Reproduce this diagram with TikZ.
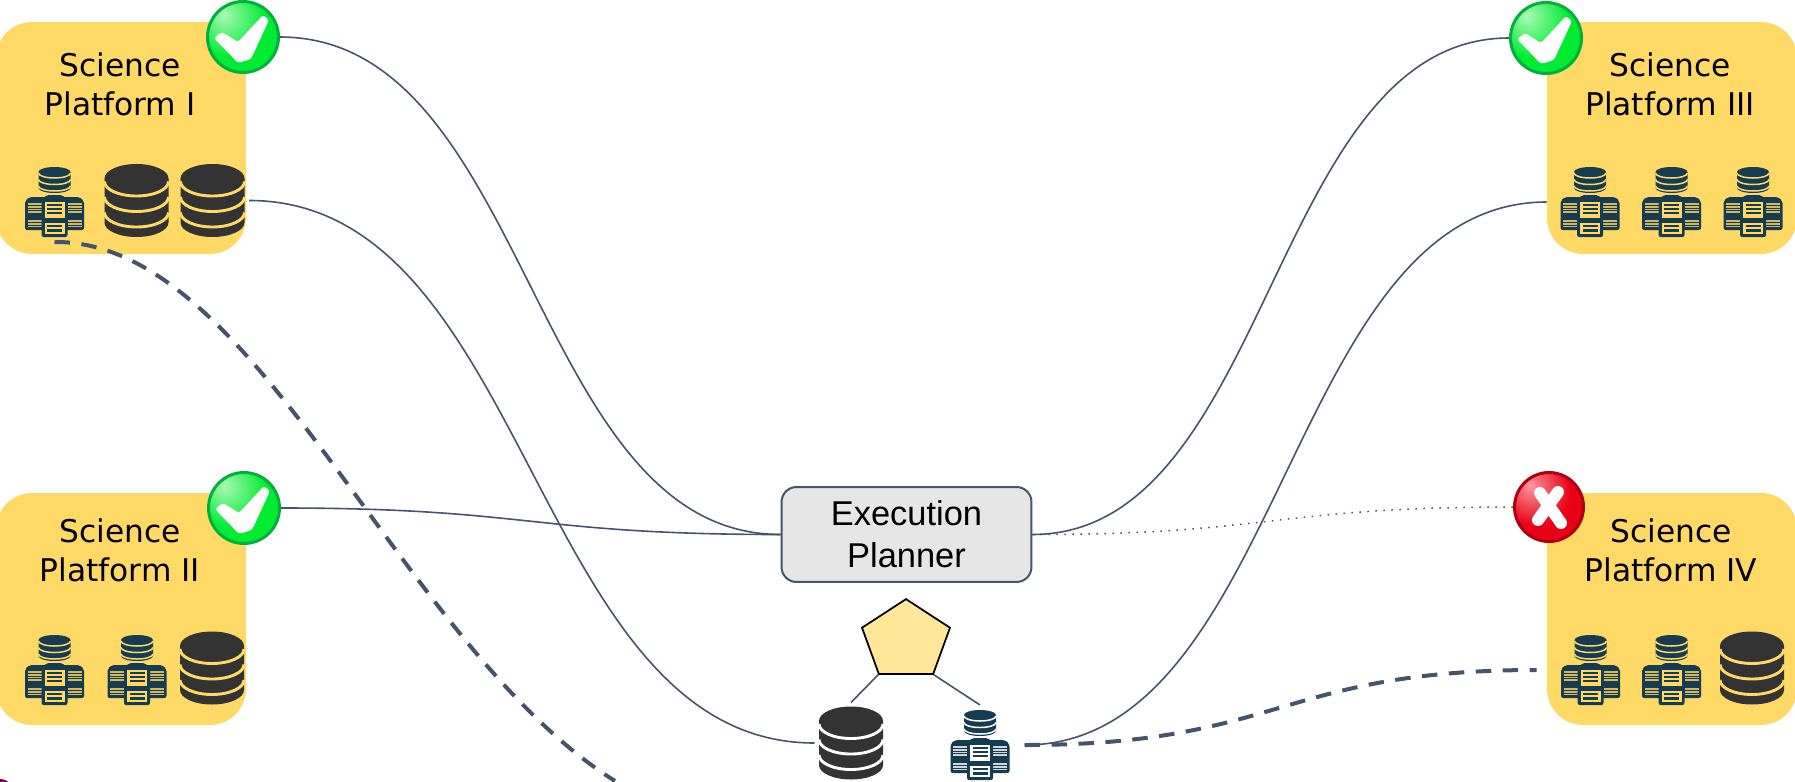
\documentclass[tikz,border=0pt]{standalone}
\usepackage{fontspec}
\setmainfont{DejaVu Sans}
\newfontfamily\plannerfont{Liberation Sans}
\usepackage{tikz}
\usetikzlibrary{shapes.geometric, calc}
\definecolor{platyellow}{RGB}{255, 217, 102}
\definecolor{wireslate}{RGB}{68, 84, 106}
\definecolor{dbdark}{RGB}{51, 51, 51}
\definecolor{srvdark}{RGB}{23, 59, 80}
\definecolor{plannergray}{RGB}{230, 230, 230}
\definecolor{pentyellow}{RGB}{255, 230, 153}
\definecolor{okhi}{RGB}{170, 250, 180}
\definecolor{okmain}{RGB}{0, 235, 50}
\definecolor{okring}{RGB}{0, 176, 60}
\definecolor{badhi}{RGB}{255, 150, 160}
\definecolor{badmain}{RGB}{232, 0, 20}
\definecolor{badring}{RGB}{175, 0, 15}
\definecolor{cutpurple}{RGB}{130, 0, 90}
\pgfdeclareradialshading{okball}{\pgfpoint{-14bp}{16bp}}{color(0bp)=(okhi); color(26bp)=(okmain); color(100bp)=(okmain)}
\pgfdeclareradialshading{badball}{\pgfpoint{-14bp}{16bp}}{color(0bp)=(badhi); color(26bp)=(badmain); color(100bp)=(badmain)}
\newcommand{\dbglyph}[1]{%
  \begin{scope}[shift={(path picture bounding box.center)}]
    \fill[dbdark] (-32,-22) -- (-32,22) arc[start angle=180, end angle=0, x radius=32, y radius=14.5] -- (32,-22) -- cycle;
    \fill[dbdark] (0,-22) ellipse[x radius=32, y radius=14.5];
    \foreach \rowy in {-19,-3.5,12}
      \draw[#1, line width=0.058cm] (-32,\rowy) arc[start angle=180, end angle=0, x radius=32, y radius=14.5];
  \end{scope}}
\newcommand{\srvglyph}[1]{%
  \begin{scope}[shift={(path picture bounding box.center)}]
    \fill[srvdark] (-16,-30) -- (-16,-14) arc[start angle=180, end angle=0, x radius=16, y radius=5] -- (16,-30) -- cycle;
    \fill[srvdark] (0,-30) ellipse[x radius=16, y radius=5];
    \foreach \rowy in {-29,-22.5,-16}
      \draw[#1, line width=0.03cm] (-16,\rowy) arc[start angle=180, end angle=0, x radius=16, y radius=5];
    \foreach \sidex in {-1,1} {
      \fill[srvdark, rounded corners=1.2pt] (\sidex*29.5,28) -- (\sidex*29.5,-1) -- (\sidex*25,-5) -- (\sidex*8,-5) -- (\sidex*8,28) -- cycle;
      \fill[#1!80!srvdark] (\sidex*27,1) rectangle (\sidex*13,11);
      \fill[#1!80!srvdark] (\sidex*27,18) rectangle (\sidex*13,25);
      \foreach \rowy in {3.5,6,8.5,20.5,23}
        \draw[srvdark, line width=0.012cm] (\sidex*27,\rowy) -- (\sidex*13,\rowy);
    }
    \fill[srvdark, rounded corners=1.2pt] (-13,35) -- (-13,-2) -- (-8,-7) -- (8,-7) -- (13,-2) -- (13,35) -- cycle;
    \fill[#1] (-10,-0.5) rectangle (10,15.5);
    \fill[#1] (-10,21) rectangle (10,32);
    \foreach \rowy in {3,7,11,24,28.5}
      \draw[srvdark, line width=0.05cm] (-7.5,\rowy) -- (7.5,\rowy);
  \end{scope}}
\begin{document}
\begin{tikzpicture}[
  x=0.02cm, y=-0.02cm,
  platbox/.style={fill=platyellow, rounded corners=0.72cm, minimum width=5cm, minimum height=4.64cm, inner sep=0pt},
  plattext/.style={align=center, inner sep=0pt, font=\fontsize{17.8}{22.1}\selectfont},
  dbicon/.style={minimum width=1.32cm, minimum height=1.48cm, inner sep=0pt, outer sep=2pt, path picture={\dbglyph{#1}}},
  srvicon/.style={minimum width=1.2cm, minimum height=1.46cm, inner sep=0pt, outer sep=2pt, path picture={\srvglyph{#1}}},
  okbadge/.style={circle, minimum size=1.42cm, inner sep=0pt, draw=okring, line width=0.06cm, shade, shading=okball,
    path picture={\fill[white, rounded corners=1.5pt, shift={(path picture bounding box.center)}]
      (-29,1) -- (-21,-5) -- (-5,5) -- (20,-22) -- (26,-17) -- (8,22) -- (-5,26) -- cycle;}},
  badbadge/.style={circle, minimum size=1.38cm, inner sep=0pt, draw=badring, line width=0.06cm, shade, shading=badball,
    path picture={\draw[white, line width=0.24cm, line cap=round, shift={(path picture bounding box.center)}]
      (-9,-14) -- (12,16) (9,-15) -- (-11,13);}},
  wire/.style={draw=wireslate, line width=0.032cm},
  thickdash/.style={draw=wireslate, line width=0.08cm, dash pattern=on 0.31cm off 0.23cm},
  thindot/.style={draw=wireslate, line width=0.03cm, dash pattern=on 0.03cm off 0.13cm},
]
  \useasboundingbox (0,0) rectangle (1795,781);
  \node[circle, fill=cutpurple, minimum size=0.56cm, inner sep=0pt] (cutmark) at (0,793) {};

  \node[platbox] (platA) at (121,138) {};
  \node[platbox] (platB) at (121,609) {};
  \node[platbox] (platC) at (1672,138) {};
  \node[platbox] (platD) at (1672,609) {};
  \node[plattext] (textA) at (120,84) {Science\\Platform I};
  \node[plattext] (textB) at (120,550) {Science\\Platform II};
  \node[plattext] (textC) at (1670,84) {Science\\Platform III};
  \node[plattext] (textD) at (1671,550) {Science\\Platform IV};

  \node[okbadge] (badgeA) at (243,37) {};
  \node[okbadge] (badgeB) at (244,508) {};
  \node[okbadge] (badgeC) at (1546,38) {};
  \node[badbadge] (badgeD) at (1549,507) {};

  \node[srvicon=platyellow] (srvA) at (54.5,202) {};
  \node[dbicon=platyellow] (dbAa) at (136.5,200.5) {};
  \node[dbicon=platyellow] (dbAb) at (212.5,200.5) {};
  \node[srvicon=platyellow] (srvBa) at (54.5,670) {};
  \node[srvicon=platyellow] (srvBb) at (137,670) {};
  \node[dbicon=platyellow] (dbB) at (212,668) {};
  \node[srvicon=platyellow] (srvCa) at (1590,202) {};
  \node[srvicon=platyellow] (srvCb) at (1671.5,202) {};
  \node[srvicon=platyellow] (srvCc) at (1753,202) {};
  \node[srvicon=platyellow] (srvDa) at (1590.5,670) {};
  \node[srvicon=platyellow] (srvDb) at (1671.5,670) {};
  \node[dbicon=platyellow] (dbD) at (1752,668) {};

  \node[draw=wireslate, fill=plannergray, line width=0.04cm, rounded corners=0.3cm, minimum width=5cm, minimum height=1.9cm,
    align=center, inner sep=0pt, font=\plannerfont\fontsize{19.6}{23.8}\selectfont] (planner) at (906.5,534.5) {Execution\\Planner};
  \node[regular polygon, regular polygon sides=5, draw=black, fill=pentyellow, line width=0.035cm, minimum size=1.85cm, inner sep=0pt,
    yscale=0.895, transform shape] (pent) at (906,640.5) {};
  \node[dbicon=white] (planDb) at (851,743) {};
  \node[srvicon=white] (planSrv) at (980,745) {};
  \coordinate (srvOut) at ($(planSrv.east)+(11,0)$);
  \coordinate (deadEnd) at (615,781);

  \draw[wire] (pent.corner 3) -- (planDb.north);
  \draw[wire] (pent.corner 4) -- (planSrv.north);
  \draw[wire] (badgeA.east) .. controls +(250,0) and +(-250,0) .. (planner.west);
  \draw[wire] (dbAb.east) .. controls +(282,0) and +(-282,0) .. (planDb.west);
  \draw[wire] (badgeB.east) .. controls +(250,0) and +(-250,0) .. (planner.west);
  \draw[wire] (planner.east) .. controls +(239,0) and +(-239,0) .. (badgeC.west);
  \draw[wire] (srvOut) .. controls +(260,0) and +(-260,0) .. (platC.west |- srvCa);
  \draw[thindot] (planner.east) .. controls +(240,0) and +(-240,0) .. (badgeD.west);
  \draw[thickdash] (srvA.south) .. controls (258,240) and (398,645) .. (deadEnd);
  \draw[thickdash] (srvOut) .. controls +(256,0) and +(-256,0) .. ($(platD.west |- srvDa)+(-10,0)$);
\end{tikzpicture}
\end{document}
